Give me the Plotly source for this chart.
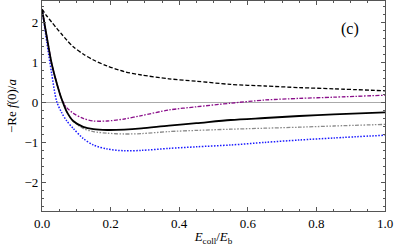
import plotly.graph_objects as go

# Collision energy E_coll/E_b
x_vals = [0.0, 0.014, 0.028, 0.043, 0.057, 0.072, 0.091, 0.12, 0.15, 0.19,
          0.24, 0.29, 0.37, 0.45, 0.55, 0.65, 0.75, 0.85, 1.0]

# -Re f(0)/a series
dashed_black = [2.32, 2.15, 2.0, 1.84, 1.7, 1.55, 1.38, 1.2, 1.05, 0.9,
                0.76, 0.675, 0.58, 0.52, 0.44, 0.40, 0.36, 0.33, 0.28]
solid_black = [2.32, 1.63, 0.97, 0.47, 0.08, -0.24, -0.475, -0.62, -0.68, -0.70,
               -0.69, -0.66, -0.59, -0.53, -0.45, -0.40, -0.35, -0.31, -0.26]
purple_dashdot = [2.32, 1.63, 0.97, 0.47, 0.08, -0.14, -0.28, -0.41, -0.475, -0.475,
                  -0.425, -0.34, -0.2, -0.12, -0.03, 0.05, 0.09, 0.12, 0.17]
gray_dashdotdot = [2.32, 1.63, 0.97, 0.47, 0.08, -0.24, -0.48, -0.66, -0.74, -0.78,
                   -0.80, -0.79, -0.74, -0.71, -0.68, -0.655, -0.63, -0.60, -0.56]
blue_dotted = [2.32, 1.5, 0.72, 0.01, -0.26, -0.47, -0.66, -0.91, -1.075, -1.175,
               -1.22, -1.21, -1.16, -1.12, -1.075, -1.01, -0.95, -0.90, -0.83]

x_ticks = [0.0, 0.2, 0.4, 0.6, 0.8, 1.0]
y_ticks = [-2, -1, 0, 1, 2]

fig = go.Figure()
series = [
    (dashed_black, dict(color="black", width=1.3, dash="4px,2px")),
    (blue_dotted, dict(color="#1a1aff", width=1.5, dash="1.5px,1.5px")),
    (gray_dashdotdot, dict(color="#8a8a8a", width=1.3, dash="4px,1.5px,1.5px,1.5px,1.5px,1.5px")),
    (purple_dashdot, dict(color="#8b108b", width=1.3, dash="4px,1.5px,1.5px,1.5px")),
    (solid_black, dict(color="black", width=1.8)),
]
for ys, ln in series:
    fig.add_trace(go.Scatter(x=x_vals, y=ys, mode="lines", line=dict(shape="spline", smoothing=0.8, **ln),
                             showlegend=False, hoverinfo="skip"))

serif = "Liberation Serif, Times New Roman, serif"
font = dict(family=serif, size=13, color="black")
fig.update_layout(
    width=395, height=251,
    margin=dict(l=42, r=10, t=1, b=40),
    plot_bgcolor="white", paper_bgcolor="white",
    font=font,
    annotations=[dict(x=0.898, y=1.83, xref="x", yref="y", text="(c)", showarrow=False,
                      font=dict(family=serif, size=16, color="black"))],
)
fig.update_xaxes(
    range=[0, 1.0], tickvals=x_ticks, ticktext=[f"{v:.1f}" for v in x_ticks],
    showgrid=False, zeroline=False, showline=True, linecolor="#555", linewidth=1.2, mirror="ticks",
    ticks="inside", ticklen=4, tickcolor="#555",
    minor=dict(dtick=0.05, ticks="inside", ticklen=2, tickcolor="#555"),
    tickfont=dict(family=serif, size=13),
    title=dict(text="<i>E</i><sub>coll</sub>/<i>E</i><sub>b</sub>", standoff=2, font=dict(family=serif, size=13)),
    automargin=False,
)
fig.update_yaxes(
    range=[-2.725, 2.525], tickvals=y_ticks,
    showgrid=False, zeroline=True, zerolinecolor="#aaaaaa", zerolinewidth=1,
    showline=True, linecolor="#555", linewidth=1.2, mirror="ticks",
    ticks="inside", ticklen=4, tickcolor="#555",
    minor=dict(dtick=0.2, ticks="inside", ticklen=2, tickcolor="#555"),
    tickfont=dict(family=serif, size=13),
    title=dict(text="\u2212Re <i>f</i>(0)/<i>a</i>", standoff=4, font=dict(family=serif, size=13)),
    automargin=False,
)
fig.write_html("out.html", config={"displayModeBar": False},
               post_script="document.body.style.margin='0';")
